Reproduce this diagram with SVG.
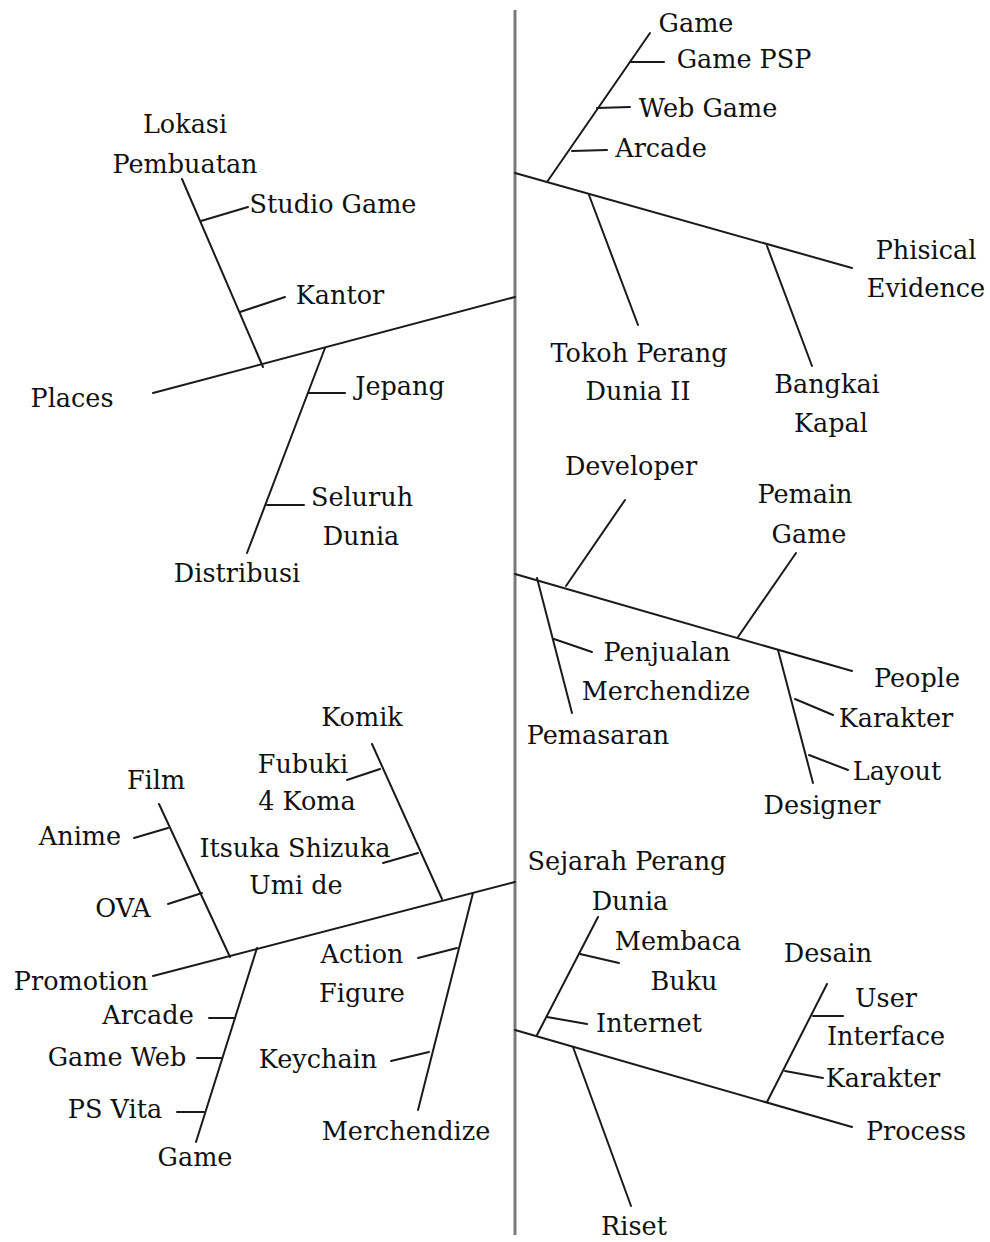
<svg xmlns="http://www.w3.org/2000/svg" width="990" height="1242" viewBox="0 0 990 1242">
<style>
.t text{font-family:"DejaVu Serif","Times New Roman",serif;font-size:25.5px;fill:#111;text-anchor:middle}
.l{stroke:#1a1a1a;stroke-width:2;fill:none;stroke-linecap:round}
.spine{stroke:#7a7a7a;stroke-width:3;fill:none}
</style>
<rect width="990" height="1242" fill="#fff"/>
<g id="connectors">
<line class="spine" x1="515" y1="10" x2="515" y2="1235"/>
<line class="l" x1="515" y1="173" x2="852" y2="268"/>
<line class="l" x1="547" y1="182" x2="650" y2="33"/>
<line class="l" x1="630" y1="62" x2="664" y2="62"/>
<line class="l" x1="597" y1="108" x2="630" y2="107"/>
<line class="l" x1="572" y1="151" x2="607" y2="150"/>
<line class="l" x1="589" y1="195" x2="638" y2="325"/>
<line class="l" x1="767" y1="246" x2="812" y2="366"/>
<line class="l" x1="153" y1="393" x2="515" y2="297"/>
<line class="l" x1="182" y1="179" x2="263" y2="367"/>
<line class="l" x1="201" y1="221" x2="248" y2="207"/>
<line class="l" x1="240" y1="312" x2="285" y2="297"/>
<line class="l" x1="325" y1="348" x2="247" y2="553"/>
<line class="l" x1="308" y1="393" x2="345" y2="393"/>
<line class="l" x1="267" y1="505" x2="304" y2="505"/>
<line class="l" x1="515" y1="574" x2="852" y2="671"/>
<line class="l" x1="566" y1="586" x2="625" y2="500"/>
<line class="l" x1="738" y1="637" x2="796" y2="553"/>
<line class="l" x1="537" y1="578" x2="572" y2="713"/>
<line class="l" x1="554" y1="639" x2="592" y2="652"/>
<line class="l" x1="778" y1="650" x2="813" y2="783"/>
<line class="l" x1="795" y1="699" x2="833" y2="715"/>
<line class="l" x1="809" y1="755" x2="848" y2="770"/>
<line class="l" x1="153" y1="976" x2="515" y2="882"/>
<line class="l" x1="159" y1="804" x2="230" y2="957"/>
<line class="l" x1="134" y1="838" x2="168" y2="828"/>
<line class="l" x1="168" y1="904" x2="202" y2="893"/>
<line class="l" x1="372" y1="744" x2="442" y2="899"/>
<line class="l" x1="347" y1="780" x2="380" y2="769"/>
<line class="l" x1="383" y1="863" x2="418" y2="853"/>
<line class="l" x1="257" y1="948" x2="196" y2="1142"/>
<line class="l" x1="209" y1="1018" x2="235" y2="1018"/>
<line class="l" x1="197" y1="1058" x2="222" y2="1058"/>
<line class="l" x1="177" y1="1112" x2="204" y2="1112"/>
<line class="l" x1="473" y1="893" x2="418" y2="1110"/>
<line class="l" x1="418" y1="958" x2="457" y2="948"/>
<line class="l" x1="391" y1="1061" x2="429" y2="1052"/>
<line class="l" x1="515" y1="1030" x2="852" y2="1127"/>
<line class="l" x1="537" y1="1035" x2="598" y2="917"/>
<line class="l" x1="580" y1="954" x2="619" y2="963"/>
<line class="l" x1="547" y1="1017" x2="587" y2="1024"/>
<line class="l" x1="573" y1="1047" x2="631" y2="1206"/>
<line class="l" x1="767" y1="1102" x2="827" y2="984"/>
<line class="l" x1="813" y1="1016" x2="843" y2="1016"/>
<line class="l" x1="785" y1="1071" x2="823" y2="1078"/>
</g>
<g class="t">
<g id="physical-evidence"><text x="926" y="259">Phisical</text><text x="926" y="297">Evidence</text></g>
<g id="game-top"><text x="696" y="32">Game</text></g>
<g id="game-psp"><text x="744" y="68">Game PSP</text></g>
<g id="web-game"><text x="708" y="117">Web Game</text></g>
<g id="arcade-top"><text x="661" y="157">Arcade</text></g>
<g id="tokoh"><text x="639" y="362">Tokoh Perang</text><text x="638" y="400">Dunia II</text></g>
<g id="bangkai"><text x="827" y="393">Bangkai</text><text x="831" y="432">Kapal</text></g>
<g id="places"><text x="72" y="407">Places</text></g>
<g id="lokasi"><text x="185" y="133">Lokasi</text><text x="185" y="173">Pembuatan</text></g>
<g id="studio-game"><text x="333" y="213">Studio Game</text></g>
<g id="kantor"><text x="340" y="304">Kantor</text></g>
<g id="distribusi"><text x="237" y="582">Distribusi</text></g>
<g id="jepang"><text x="400" y="395">Jepang</text></g>
<g id="seluruh-dunia"><text x="362" y="506">Seluruh</text><text x="361" y="545">Dunia</text></g>
<g id="people"><text x="917" y="687">People</text></g>
<g id="developer"><text x="631" y="475">Developer</text></g>
<g id="pemain-game"><text x="805" y="503">Pemain</text><text x="809" y="543">Game</text></g>
<g id="pemasaran"><text x="598" y="744">Pemasaran</text></g>
<g id="penjualan"><text x="667" y="661">Penjualan</text><text x="666" y="700">Merchendize</text></g>
<g id="designer"><text x="822" y="814">Designer</text></g>
<g id="karakter-mid"><text x="896" y="727">Karakter</text></g>
<g id="layout"><text x="897" y="780">Layout</text></g>
<g id="promotion"><text x="81" y="990">Promotion</text></g>
<g id="film"><text x="156" y="789">Film</text></g>
<g id="anime"><text x="80" y="845">Anime</text></g>
<g id="ova"><text x="123" y="917">OVA</text></g>
<g id="komik"><text x="362" y="726">Komik</text></g>
<g id="fubuki"><text x="303" y="773">Fubuki</text><text x="307" y="810">4 Koma</text></g>
<g id="itsuka"><text x="295" y="857">Itsuka Shizuka</text><text x="296" y="894">Umi de</text></g>
<g id="game-bottom"><text x="195" y="1166">Game</text></g>
<g id="arcade-bottom"><text x="148" y="1024">Arcade</text></g>
<g id="game-web"><text x="117" y="1066">Game Web</text></g>
<g id="ps-vita"><text x="115" y="1118">PS Vita</text></g>
<g id="merchendize"><text x="406" y="1140">Merchendize</text></g>
<g id="action-figure"><text x="362" y="963">Action</text><text x="362" y="1002">Figure</text></g>
<g id="keychain"><text x="318" y="1068">Keychain</text></g>
<g id="process"><text x="916" y="1140">Process</text></g>
<g id="sejarah"><text x="627" y="870">Sejarah Perang</text><text x="630" y="910">Dunia</text></g>
<g id="membaca-buku"><text x="678" y="950">Membaca</text><text x="684" y="990">Buku</text></g>
<g id="internet"><text x="649" y="1032">Internet</text></g>
<g id="riset"><text x="634" y="1235">Riset</text></g>
<g id="desain"><text x="828" y="962">Desain</text></g>
<g id="user-interface"><text x="886" y="1007">User</text><text x="886" y="1045">Interface</text></g>
<g id="karakter-bottom"><text x="883" y="1087">Karakter</text></g>
</g>
</svg>
